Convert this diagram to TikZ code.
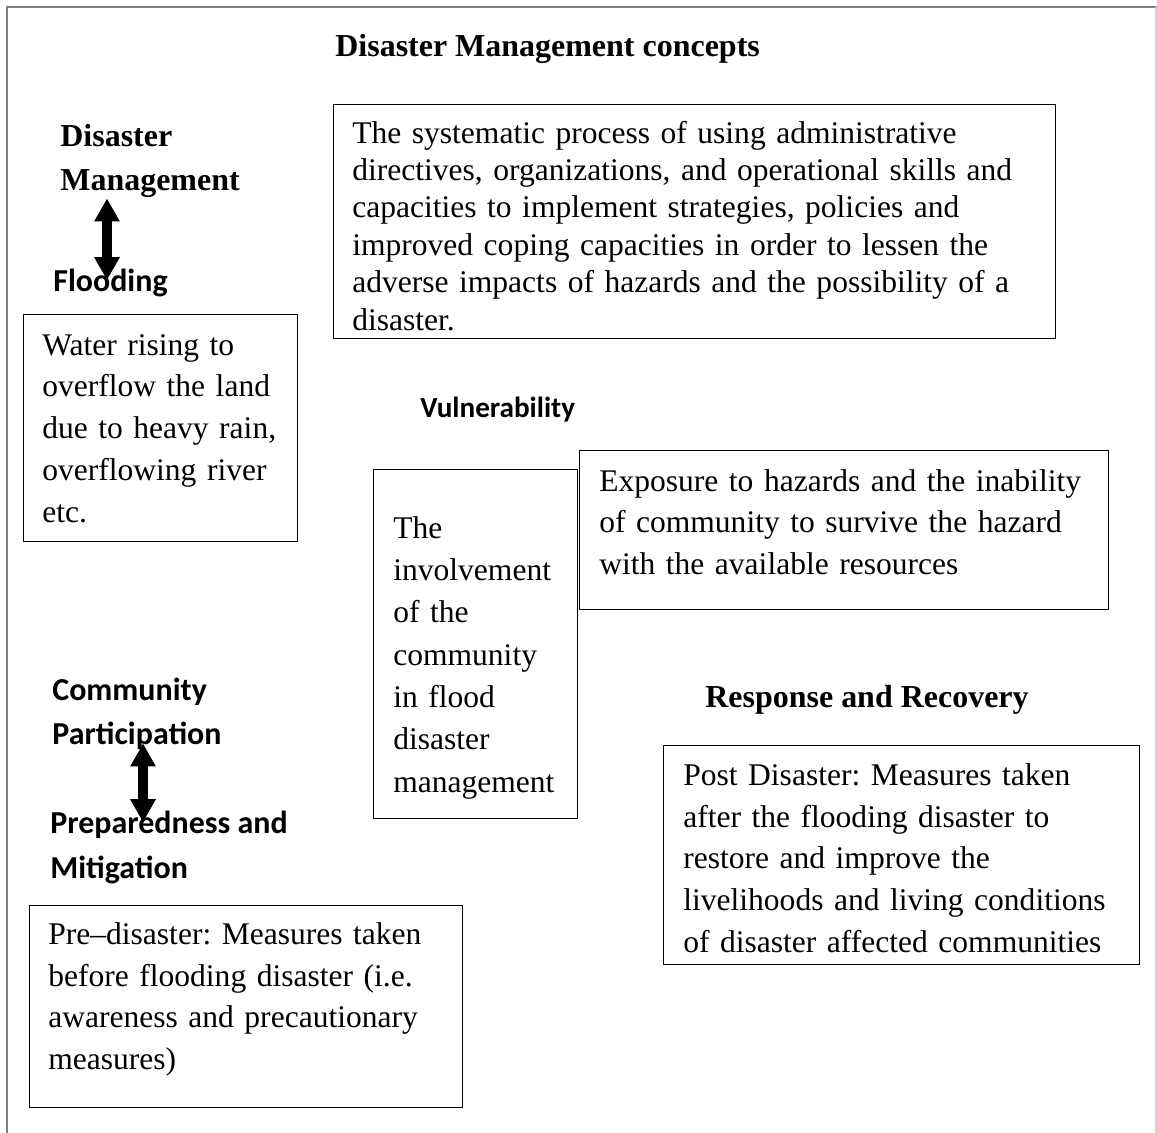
\documentclass[tikz,border=0pt]{standalone}
\usepackage{fontspec}
\setmainfont{Liberation Serif}
\newfontfamily\calibri{Carlito}
\usepackage{tikz}
\usetikzlibrary{arrows.meta,calc}
\frenchspacing

\begin{document}
\begin{tikzpicture}[x=0.02cm, y=-0.02cm,
  box/.style={draw, line width=0.7pt, anchor=north west, inner sep=0pt},
  txt/.style={anchor=base west, inner sep=0pt, align=left, text width=#1,
    font=\fontsize{17.95}{23.9}\selectfont},
  head/.style={anchor=base west, inner sep=0pt, align=left,
    font=\bfseries\fontsize{18.2}{24.5}\selectfont},
  lab/.style={anchor=base west, inner sep=0pt, align=left,
    font=\calibri\bfseries\fontsize{18.2}{25}\selectfont},
  dblarrow/.style={line width=0.2cm, {Triangle[width=0.48cm,length=0.46cm]}-{Triangle[width=0.48cm,length=0.46cm]}}
  ]
  \useasboundingbox (0,0) rectangle (1157,1133);
  % page frame
  \draw[gray, line width=1pt] (7,1133) -- (7,7) -- (1157,7);
  \draw[gray!35, line width=0.6pt] (1156,7) -- (1156,1133);

  \node[head] (title) at (335,56) {Disaster Management concepts};

  % disaster management
  \node[head] (dm) at (60,190) {Disaster\\Management};
  \node[lab] (fl) at (53,291) {Flooding};
  \draw[dblarrow] ($(dm.south west)+(47,1)$) -- ($(fl.north west)+(54,12)$);
  \node[box, minimum width=14.44cm, minimum height=4.68cm] (defbox) at (333,104) {};
  \node[txt=14.2cm, font=\fontsize{17.95}{21.3}\selectfont] (def) at ($(defbox.north west)+(19,39)$)
    {The systematic process of using administrative\\
     directives, organizations, and operational skills and\\
     capacities to implement strategies, policies and\\
     improved coping capacities in order to lessen the\\
     adverse impacts of hazards and the possibility of a\\
     disaster.};
  \node[box, minimum width=5.48cm, minimum height=4.54cm] (floodbox) at (23,314) {};
  \node[txt=5.3cm] (flood) at ($(floodbox.north west)+(19,41)$)
    {Water rising to\\ overflow the land\\ due to heavy rain,\\ overflowing river\\ etc.};

  % vulnerability
  \node[lab, font=\calibri\bfseries\fontsize{16.6}{20}\selectfont] (vul) at (420,417) {Vulnerability};
  \node[box, minimum width=10.58cm, minimum height=3.18cm] (exposebox) at (579,450) {};
  \node[txt=10.4cm] (expose) at ($(exposebox.north west)+(20,41)$)
    {Exposure to hazards and the inability\\ of community to survive the hazard\\ with the available resources};
  \node[box, minimum width=4.08cm, minimum height=6.98cm] (involvebox) at (373,469) {};
  \node[txt=4cm, font=\fontsize{17.95}{24.1}\selectfont] (involve) at ($(involvebox.north west)+(20,69)$)
    {The\\ involvement\\ of the\\ community\\ in flood\\ disaster\\ management};

  % community participation
  \node[lab] (cp) at (52,744) {Community\\Participation};
  \node[lab, font=\calibri\bfseries\fontsize{18.2}{25.6}\selectfont] (pm) at (50,878) {Preparedness and\\Mitigation};
  \draw[dblarrow] ($(cp.south west)+(91,-6)$) -- ($(pm.north west)+(93,12)$);
  \node[box, minimum width=8.66cm, minimum height=4.04cm] (prebox) at (29,905) {};
  \node[txt=8.5cm] (pre) at ($(prebox.north west)+(19,39)$)
    {Pre–disaster: Measures taken\\ before flooding disaster (i.e.\\ awareness and precautionary\\ measures)};

  % response and recovery
  \node[head] (rr) at (705,707) {Response and Recovery};
  \node[box, minimum width=9.52cm, minimum height=4.38cm] (postbox) at (663,745) {};
  \node[txt=9.4cm] (post) at ($(postbox.north west)+(20,40)$)
    {Post Disaster: Measures taken\\ after the flooding disaster to\\ restore and improve the\\ livelihoods and living conditions\\ of disaster affected communities};
\end{tikzpicture}
\end{document}
